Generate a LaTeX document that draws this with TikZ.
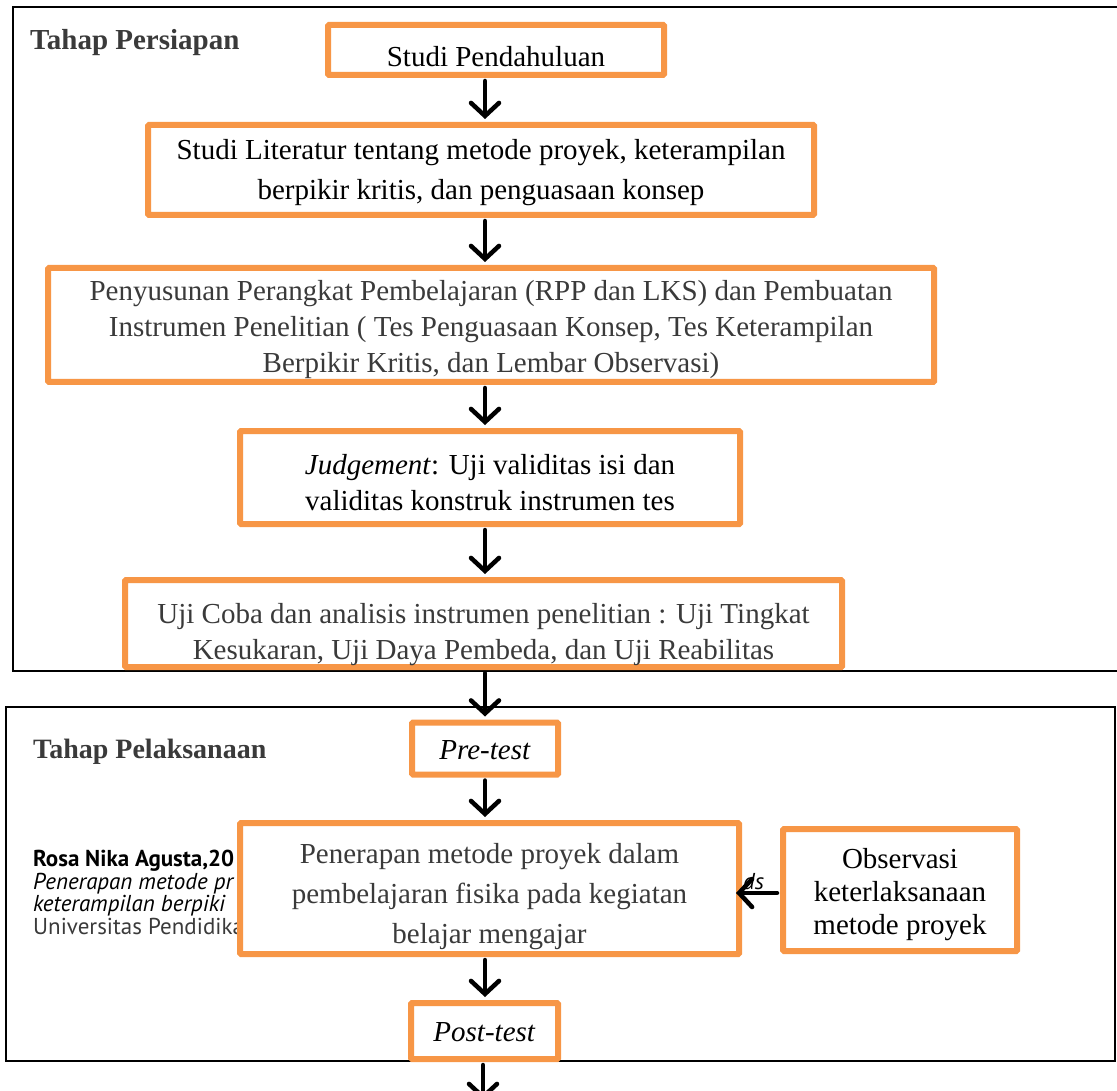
\documentclass[tikz,border=0pt]{standalone}
\usepackage{fontspec}
\setmainfont{Liberation Serif}
\newfontfamily\sidefont{PT Sans}
\usetikzlibrary{arrows.meta,calc}
\definecolor{boxorange}{HTML}{F79646}
\definecolor{darkgrey}{HTML}{3A3A3A}
\begin{document}
\begin{tikzpicture}[x=1pt,y=-1pt,
  obox/.style={draw=boxorange, line width=6pt, fill=white, rounded corners=1pt, inner sep=0pt},
  btxt/.style={align=center, inner sep=0pt, font=\fontsize{29}{36}\selectfont},
  frameline/.style={draw=black, line width=2.5pt},
  arr/.style={draw=black, line width=4.5pt, line cap=round,
    -{Straight Barb[length=13pt,width=28pt,line cap=round]}},
  lbl/.style={font=\fontsize{29}{34}\selectfont\bfseries, text=darkgrey, anchor=base west, inner sep=0pt},
  side/.style={font=\sidefont\fontsize{23}{26}\selectfont, anchor=base west, inner sep=0pt}]
\useasboundingbox (0,0) rectangle (1117,1091);
% frames
\draw[frameline] (1135,7) -- (13,7) -- (13,671) -- (1135,671);
\draw[frameline] (6,707) rectangle (1115,1061);
% labels
\node[lbl] (l1) at (30,50) {Tahap Persiapan};
\node[lbl, font=\fontsize{28}{34}\selectfont\bfseries] (l2) at (33,758) {Tahap Pelaksanaan};
% side text (behind boxes)
\node[side, font=\sidefont\bfseries\fontsize{23}{26}\selectfont] (s1) at (33,866) {Rosa Nika Agusta,20};
\node[side, font=\sidefont\itshape\fontsize{23}{26}\selectfont] (s2) at (33,889) {Penerapan metode pr};
\node[side, font=\sidefont\itshape\fontsize{23}{26}\selectfont] (s3) at (33,911) {keterampilan berpiki};
\node[side, text=darkgrey] (s4) at (33,934) {Universitas Pendidika};
\node[side, font=\sidefont\itshape\fontsize{23}{26}\selectfont] (s5) at (743,889) {ds};
% boxes
\node[obox, minimum width=336pt, minimum height=50pt] (b1) at (496,50) {};
\node[obox, minimum width=666pt, minimum height=90pt] (b2) at (481,170) {};
\node[obox, minimum width=886pt, minimum height=114pt] (b3) at (491,325) {};
\node[obox, minimum width=500pt, minimum height=93pt] (b4) at (490,477.5) {};
\node[obox, minimum width=717pt, minimum height=87pt] (b5) at (483.5,623.5) {};
\node[obox, minimum width=146pt, minimum height=52pt] (b6) at (485,748.5) {};
\node[obox, minimum width=499pt, minimum height=131pt] (b7) at (489.5,888.5) {};
\node[obox, minimum width=234pt, minimum height=122pt] (b8) at (900,890) {};
\node[obox, minimum width=147pt, minimum height=56pt] (b9) at (484.5,1031) {};
% box texts
\node[btxt] (t1) at ($(b1)+(0,7)$) {Studi Pendahuluan};
\node[btxt, font=\fontsize{29}{40}\selectfont] (t2) at ($(b2)+(0,3)$)
  {Studi Literatur tentang metode proyek, keterampilan\\berpikir kritis, dan penguasaan konsep};
\node[btxt, text=darkgrey] (t3) at ($(b3)+(0,5)$)
  {Penyusunan Perangkat Pembelajaran (RPP dan LKS) dan Pembuatan\\Instrumen Penelitian ( Tes Penguasaan Konsep, Tes Keterampilan\\Berpikir Kritis, dan Lembar Observasi)};
\node[btxt] (t4) at ($(b4)+(0,5)$)
  {\textit{Judgement}: Uji validitas isi dan\\validitas konstruk instrumen tes};
\node[btxt, text=darkgrey] (t5) at ($(b5)+(0,11)$)
  {Uji Coba dan analisis instrumen penelitian : Uji Tingkat\\Kesukaran, Uji Daya Pembeda, dan Uji Reabilitas};
\node[btxt] (t6) at ($(b6)+(0,2)$) {\textit{Pre-test}};
\node[btxt, text=darkgrey, font=\fontsize{29}{40}\selectfont] (t7) at ($(b7)+(0,8)$)
  {Penerapan metode proyek dalam\\pembelajaran fisika pada kegiatan\\belajar mengajar};
\node[btxt, font=\fontsize{29}{33}\selectfont] (t8) at ($(b8)+(0,5)$)
  {Observasi\\keterlaksanaan\\metode proyek};
\node[btxt] (t9) at ($(b9)+(0,1)$) {\textit{Post-test}};
% arrows
\coordinate (ax) at (485,0);
\coordinate (bend) at (483,1100);
\draw[arr] ($(b1.south -| ax)+(0,3)$) -- ($(b2.north -| ax)+(0,-3)$);
\draw[arr] ($(b2.south -| ax)+(0,3)$) -- ($(b3.north -| ax)+(0,-3)$);
\draw[arr] ($(b3.south -| ax)+(0,3)$) -- ($(b4.north -| ax)+(0,-3)$);
\draw[arr] ($(b4.south -| ax)+(0,3)$) -- ($(b5.north -| ax)+(0,-3)$);
\draw[arr] ($(b5.south -| ax)+(0,3)$) -- ($(b6.north -| ax)+(0,-3)$);
\draw[arr] ($(b6.south -| ax)+(0,3)$) -- ($(b7.north -| ax)+(0,-3)$);
\draw[arr] ($(b8.west)+(-3,3)$) -- ($(b7.east |- b8.west)+(-6,3)$);
\draw[arr] ($(b7.south -| ax)+(0,3)$) -- ($(b9.north -| ax)+(0,-3)$);
\draw[arr] ($(b9.south -| bend)+(0,3)$) -- (bend);
\end{tikzpicture}
\end{document}
